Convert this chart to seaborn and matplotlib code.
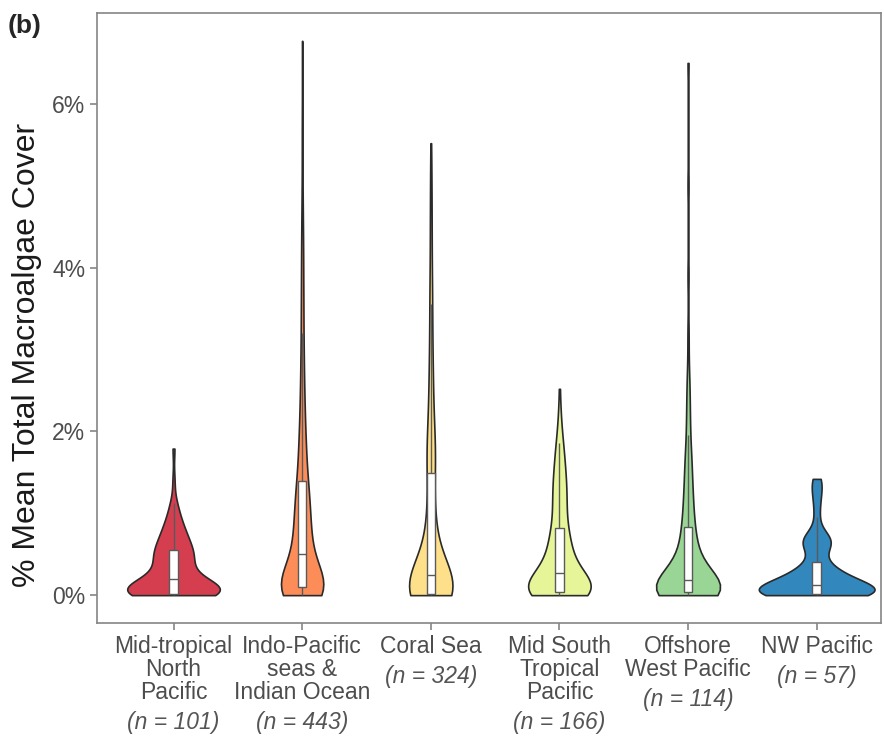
import numpy as np
import pandas as pd
import matplotlib
matplotlib.use("Agg")
import matplotlib.pyplot as plt
import seaborn as sns

# regions, sample sizes and colours
regions = ["Mid-tropical North Pacific", "Indo-Pacific seas & Indian Ocean", "Coral Sea",
           "Mid South Tropical Pacific", "Offshore West Pacific", "NW Pacific"]
tick_labels = ["Mid-tropical\nNorth\nPacific", "Indo-Pacific\nseas &\nIndian Ocean", "Coral Sea",
               "Mid South\nTropical\nPacific", "Offshore\nWest Pacific", "NW Pacific"]
n_sites = [101, 443, 324, 166, 114, 57]
colors = ["#D53E4F", "#FC8D59", "#FEE08B", "#E6F598", "#99D594", "#3288BD"]

mtnp_val = [0.00, 0.02, 0.06, 0.10, 0.15, 0.20, 0.27, 0.34, 0.41, 0.48, 0.55, 0.63, 0.71, 0.80, 0.90, 1.00, 1.12, 1.40, 1.79]
mtnp_cnt = [14, 12, 9, 8, 7, 5, 4, 4, 5, 6, 5, 5, 4, 4, 3, 2, 2, 1, 1]

ipio_val = [0.00, 0.05, 0.10, 0.15, 0.20, 0.30, 0.40, 0.50, 0.60, 0.70, 0.80, 0.90, 1.00, 1.10, 1.20, 1.30, 1.40,
            1.55, 1.70, 1.85, 2.00, 2.20, 2.40, 2.65, 2.90, 3.20, 3.50, 3.80, 4.10, 4.40, 4.70, 5.00, 5.40, 5.80,
            6.30, 6.77]
ipio_cnt = [55, 47, 30, 25, 22, 20, 15, 15, 15, 14, 13, 13, 12, 12, 11, 11, 10,
            10, 9, 9, 8, 8, 8, 7, 7, 6, 6, 5, 5, 4, 3, 2, 2, 2,
            1, 1]

cs_val = [0.00, 0.02, 0.06, 0.11, 0.16, 0.21, 0.28, 0.36, 0.45, 0.55, 0.65, 0.75, 0.88, 1.00, 1.15, 1.30, 1.45,
          1.60, 1.75, 1.90, 2.05, 2.25, 2.45, 2.65, 2.85, 3.05, 3.30, 3.55, 3.80, 4.10, 4.40, 4.70, 5.00, 5.25, 5.52]
cs_cnt = [75, 10, 22, 20, 18, 17, 12, 10, 9, 8, 7, 6, 7, 6, 6, 5, 5,
          9, 9, 7, 6, 6, 5, 5, 4, 4, 4, 4, 4, 3, 3, 3, 2, 2, 1]

mstp_val = [0.00, 0.04, 0.10, 0.16, 0.23, 0.32, 0.42, 0.52, 0.62, 0.72, 0.82, 0.95, 1.08, 1.20, 1.32, 1.45,
            1.58, 1.72, 1.86, 2.00, 2.20, 2.52]
mstp_cnt = [30, 14, 14, 13, 12, 9, 8, 7, 7, 6, 5, 5, 5, 5, 5, 5, 4, 4, 3, 2, 2, 1]

owp_val = [0.00, 0.04, 0.09, 0.14, 0.19, 0.27, 0.36, 0.46, 0.56, 0.66, 0.76, 0.86, 1.00, 1.15, 1.30, 1.50,
           1.70, 1.95, 2.20, 2.50, 2.80, 3.20, 3.90, 5.00, 6.50]
owp_cnt = [25, 8, 10, 9, 8, 6, 5, 4, 4, 3, 3, 3, 3, 3, 3, 3, 3, 2, 2, 2, 1, 1, 1, 1, 1]

nwp_val = [0.00, 0.02, 0.05, 0.08, 0.12, 0.16, 0.21, 0.27, 0.33, 0.40, 0.48, 0.60, 0.67, 0.74, 0.95, 1.12, 1.25,
           1.35, 1.42]
nwp_cnt = [9, 6, 5, 5, 4, 4, 3, 3, 3, 1, 1, 3, 3, 2, 1, 1, 1, 1, 1]

tables = [(mtnp_val, mtnp_cnt), (ipio_val, ipio_cnt), (cs_val, cs_cnt),
          (mstp_val, mstp_cnt), (owp_val, owp_cnt), (nwp_val, nwp_cnt)]

frames = []
for reg, (v, c) in zip(regions, tables):
    frames.append(pd.DataFrame({"region": reg, "cover": np.repeat(v, c)}))
df = pd.concat(frames, ignore_index=True)


def nrd0(kde):
    # R's default bandwidth (what ggplot's geom_violin uses), as a factor of the sd
    x = kde.dataset[0]
    sd = x.std(ddof=1)
    q75, q25 = np.percentile(x, [75, 25])
    bw = 0.9 * min(sd, (q75 - q25) / 1.34) * len(x) ** (-0.2)
    return bw / sd


sns.set_theme(style="ticks")
plt.rcParams["font.family"] = ["Liberation Sans", "DejaVu Sans"]

fig = plt.figure(figsize=(8.84, 7.39), dpi=100)
ax = fig.add_axes([0.1097, 0.157, 0.8869, 0.8254])

sns.violinplot(data=df, x="region", y="cover", hue="region", order=regions, hue_order=regions,
               palette=colors, legend=False, inner=None, cut=0, density_norm="area", common_norm=True,
               width=0.9, bw_method=nrd0, linewidth=1.2, linecolor="#2a2a2a", saturation=1, ax=ax)
sns.boxplot(data=df, x="region", y="cover", order=regions, width=0.065, showfliers=False,
            showcaps=False, color="white", linecolor="#5a5a5a", linewidth=1.0, saturation=1, ax=ax)

ax.set_xlim(-0.595, 5.5)
ax.set_ylim(-0.34, 7.11)
ax.set_yticks([0, 2, 4, 6])
ax.set_yticklabels(["0%", "2%", "4%", "6%"])
ax.set_xticks(range(len(regions)))
ax.set_xticklabels(tick_labels, linespacing=1.0)
ax.set_xlabel("")
ax.set_ylabel("% Mean Total Macroalgae Cover", fontsize=23, color="#1a1a1a")
ax.yaxis.set_label_coords(-0.07, 0.44)

ax.tick_params(axis="both", colors="#7a7a7a", length=5, width=1.1, labelsize=16.5, pad=3.5)
for lab in ax.get_xticklabels() + ax.get_yticklabels():
    lab.set_color("#4d4d4d")
for sp in ax.spines.values():
    sp.set_visible(True)
    sp.set_color("#858585")
    sp.set_linewidth(1.2)

fig.text(0.009, 0.981, "(b)", fontsize=19, fontweight="bold", va="top", ha="left")

# italic sample sizes under each tick label
fig.canvas.draw()
renderer = fig.canvas.get_renderer()
inv = fig.transFigure.inverted()
for lab, n in zip(ax.get_xticklabels(), n_sites):
    bb = lab.get_window_extent(renderer)
    x, y = inv.transform(((bb.x0 + bb.x1) / 2, bb.y0 - 7))
    fig.text(x, y, f"(n = {n})", fontsize=16.5, style="italic", color="#555555", ha="center", va="top")

fig.savefig("out.png", dpi=100)
